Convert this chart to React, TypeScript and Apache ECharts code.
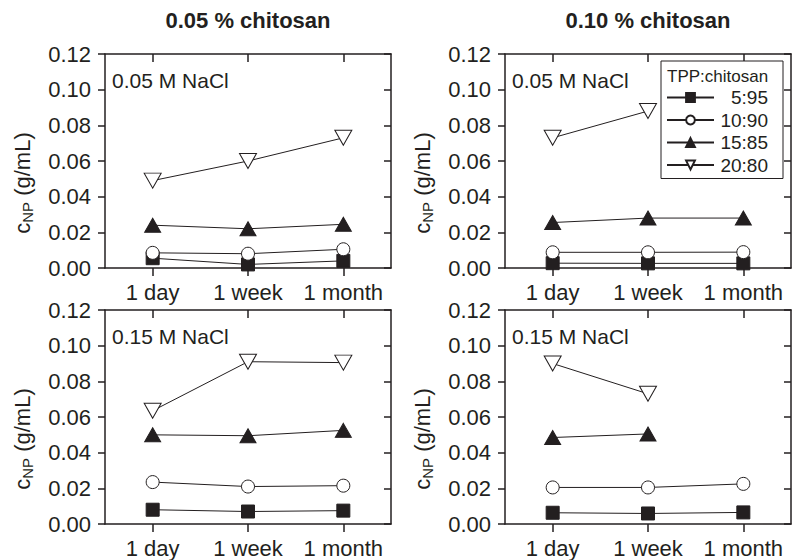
import React, { useEffect, useRef } from 'react';
import * as echarts from 'echarts';

// ---------- data ----------
const categories = ['1 day', '1 week', '1 month'];
const seriesNames = ['5:95', '10:90', '15:85', '20:80'];
const columnTitles = ['0.05 % chitosan', '0.10 % chitosan'];
const rowLabels = ['0.05 M NaCl', '0.15 M NaCl'];
const yMin = 0;
const yMax = 0.12;
const yStep = 0.02;

// top-left: 0.05 % chitosan, 0.05 M NaCl
const tl_5_95 = [0.0055, 0.002, 0.004];
const tl_10_90 = [0.0085, 0.008, 0.0105];
const tl_15_85 = [0.024, 0.022, 0.0245];
const tl_20_80 = [0.049, 0.060, 0.073];
// top-right: 0.10 % chitosan, 0.05 M NaCl
const tr_5_95 = [0.0027, 0.0026, 0.0026];
const tr_10_90 = [0.0088, 0.0088, 0.0089];
const tr_15_85 = [0.0255, 0.028, 0.028];
const tr_20_80 = [0.073, 0.088, null];
// bottom-left: 0.05 % chitosan, 0.15 M NaCl
const bl_5_95 = [0.008, 0.007, 0.0075];
const bl_10_90 = [0.0235, 0.021, 0.0215];
const bl_15_85 = [0.050, 0.0495, 0.0525];
const bl_20_80 = [0.0635, 0.091, 0.0905];
// bottom-right: 0.10 % chitosan, 0.15 M NaCl
const br_5_95 = [0.0063, 0.0059, 0.0065];
const br_10_90 = [0.0205, 0.0205, 0.0225];
const br_15_85 = [0.0485, 0.0505, null];
const br_20_80 = [0.090, 0.073, null];

const panels = [
  [tl_5_95, tl_10_90, tl_15_85, tl_20_80],
  [tr_5_95, tr_10_90, tr_15_85, tr_20_80],
  [bl_5_95, bl_10_90, bl_15_85, bl_20_80],
  [br_5_95, br_10_90, br_15_85, br_20_80],
];

// ---------- styles / layout ----------
const INK = '#231f20';
const FONT = '"Liberation Sans", Arial, Helvetica, sans-serif';
const gridLefts = [105, 505];
const gridTops = [54, 310];
const gridW = 286;
const gridH = 214;

const markerStyles = [
  { symbol: 'rect', symbolSize: 13, symbolRotate: 0, fill: INK },
  { symbol: 'circle', symbolSize: 13, symbolRotate: 0, fill: '#ffffff' },
  { symbol: 'triangle', symbolSize: [16, 14], symbolRotate: 0, fill: INK },
  { symbol: 'triangle', symbolSize: [17, 15], symbolRotate: 180, fill: '#ffffff' },
];

export default function App() {
  const ref = useRef<HTMLDivElement>(null);

  useEffect(() => {
    if (!ref.current) return;
    const chart = echarts.init(ref.current, undefined, { renderer: 'svg' });

    const grids: any[] = [];
    const xAxes: any[] = [];
    const yAxes: any[] = [];
    const series: any[] = [];
    const graphics: any[] = [];

    const axisLine = { show: true, onZero: false, lineStyle: { color: INK, width: 1.5 } };
    const tickLine = { color: INK, width: 1.5 };

    panels.forEach((panel, p) => {
      const col = p % 2;
      const row = Math.floor(p / 2);
      grids.push({ left: gridLefts[col], top: gridTops[row], width: gridW, height: gridH, containLabel: false });

      xAxes.push({
        type: 'category', gridIndex: p, position: 'bottom', data: categories, boundaryGap: true,
        axisLine, axisTick: { show: true, alignWithLabel: true, inside: false, length: 8, lineStyle: tickLine, interval: 0 },
        axisLabel: { show: true, interval: 0, hideOverlap: false, color: INK, fontSize: 22, fontFamily: FONT, margin: 13 },
        splitLine: { show: false },
      });
      xAxes.push({
        type: 'category', gridIndex: p, position: 'top', data: categories, boundaryGap: true,
        axisLine, axisTick: { show: true, alignWithLabel: true, inside: true, length: 8, lineStyle: tickLine, interval: 0 },
        axisLabel: { show: false, interval: 0 }, splitLine: { show: false },
      });
      yAxes.push({
        type: 'value', gridIndex: p, position: 'left', min: yMin, max: yMax, interval: yStep,
        axisLine, axisTick: { show: true, inside: false, length: 7, lineStyle: tickLine },
        axisLabel: { show: true, color: INK, fontSize: 22, fontFamily: FONT, margin: 14, formatter: (v: number) => v.toFixed(2) },
        splitLine: { show: false },
      });
      yAxes.push({
        type: 'value', gridIndex: p, position: 'right', min: yMin, max: yMax, interval: yStep,
        axisLine, axisTick: { show: true, inside: true, length: 7, lineStyle: tickLine },
        axisLabel: { show: false }, splitLine: { show: false },
      });

      panel.forEach((values, k) => {
        const m = markerStyles[k];
        series.push({
          type: 'line', name: seriesNames[k], xAxisIndex: 2 * p, yAxisIndex: 2 * p,
          data: values, connectNulls: false,
          symbol: m.symbol, symbolSize: m.symbolSize, symbolRotate: m.symbolRotate,
          showSymbol: true,
          itemStyle: { color: m.fill, borderColor: INK, borderWidth: 1, opacity: 1 },
          lineStyle: { color: INK, width: 1 },
          emphasis: { disabled: true },
          z: 3 + k,
        });
      });

      graphics.push({
        type: 'text', x: gridLefts[col] + 7, y: gridTops[row] + 26,
        style: { text: rowLabels[row], fill: INK, fontSize: 21, fontFamily: FONT, verticalAlign: 'middle', align: 'left' },
      });
      graphics.push({
        type: 'text', x: gridLefts[col] - 83, y: gridTops[row] + 129, rotation: Math.PI / 2,
        style: {
          text: '{c|c}{s|NP}{c| (g/mL)}', fill: INK, align: 'center', verticalAlign: 'middle',
          rich: {
            c: { fontSize: 22, fontFamily: FONT, fill: INK, lineHeight: 22 },
            s: { fontSize: 15, fontFamily: FONT, fill: INK, lineHeight: 15, padding: [11, 0, 0, 0] },
          },
        },
      });
    });

    columnTitles.forEach((t, c) => {
      graphics.push({
        type: 'text', x: gridLefts[c] + gridW / 2, y: 20,
        style: { text: t, fill: INK, fontSize: 22, fontWeight: 'bold', fontFamily: FONT, align: 'center', verticalAlign: 'middle' },
      });
    });

    graphics.push({
      type: 'text', x: 667, y: 76,
      style: { text: 'TPP:chitosan', fill: INK, fontSize: 17, fontFamily: FONT, align: 'left', verticalAlign: 'middle' },
      z: 100,
    });

    chart.setOption({
      animation: false,
      backgroundColor: '#ffffff',
      grid: grids,
      xAxis: xAxes,
      yAxis: yAxes,
      series,
      legend: {
        show: true, data: seriesNames, orient: 'vertical', left: 661, top: 61,
        padding: [27, 15, 4, 5], itemWidth: 47, itemHeight: 11, itemGap: 3.5,
        borderColor: INK, borderWidth: 1, backgroundColor: '#ffffff', selectedMode: false,
        formatter: (name: string) => `{r|${name}}`,
        textStyle: {
          color: INK, fontFamily: FONT, fontSize: 19,
          rich: { r: { width: 49, align: 'right', fontSize: 19, fontFamily: FONT, color: INK, lineHeight: 20 } },
        },
      },
      graphic: graphics,
    });

    return () => chart.dispose();
  }, []);

  return <div ref={ref} style={{ position: 'fixed', left: 0, top: 0, width: 792, height: 560 }} />;
}
